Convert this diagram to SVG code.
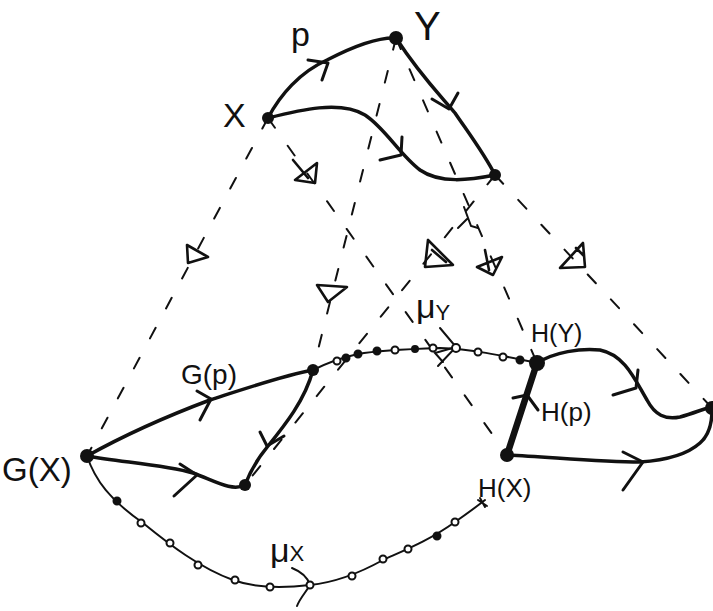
<svg xmlns="http://www.w3.org/2000/svg" width="713" height="611" viewBox="0 0 713 611">
<style>
.bg{fill:#fff}
.dash{fill:none;stroke:#111;stroke-width:2;stroke-dasharray:12 22;stroke-linecap:round}
.arc{fill:none;stroke:#111;stroke-width:3.5;stroke-linecap:round;stroke-linejoin:round}
.thick{fill:none;stroke:#111;stroke-width:6.5;stroke-linecap:round}
.thin{fill:none;stroke:#111;stroke-width:2;stroke-linecap:round}
.chev{fill:none;stroke:#111;stroke-width:3;stroke-linecap:round;stroke-linejoin:round}
.tri{fill:none;stroke:#111;stroke-width:2.6;stroke-linejoin:round;stroke-linecap:round}
.dot{fill:#111}
.bead{fill:#fff;stroke:#111;stroke-width:2}
.beadf{fill:#111;stroke:#111;stroke-width:2}
.lbl{font-family:"Liberation Sans","DejaVu Sans",sans-serif;fill:#111}
</style>
<rect class="bg" x="0" y="0" width="713" height="611"/>

<g id="connectors">
  <!-- dashed projection lines -->
  <line class="dash" x1="268" y1="118" x2="87" y2="456"/>
  <line class="dash" x1="268" y1="118" x2="507" y2="455"/>
  <line class="dash" x1="396" y1="38" x2="313" y2="370"/>
  <line class="dash" x1="396" y1="38" x2="537" y2="363"/>
  <line class="dash" x1="495" y1="175" x2="245" y2="485"/>
  <line class="dash" x1="495" y1="175" x2="712" y2="408"/>
  <path class="thin" d="M458,228 L467,219 M464,207 L471,226 L478,228"/>

  <!-- triangle marks -->
  <path class="tri" d="M295,180 L315,183 L317,163 Z M293,160 L308,178"/>
  <path class="tri" d="M187,245 L208,257 L188,263 Z"/>
  <path class="tri" d="M317,285 L347,287 L328,302 Z"/>
  <path class="tri" d="M428,240 L425,267 L453,265 Z M432,250 L446,262"/>
  <path class="tri" d="M477,267 L502,257 L493,275 Z M485,250 L489,270"/>
  <path class="tri" d="M560,268 L583,243 L585,267 Z M576,248 L584,256"/>

  <!-- top: X -> Y, Y -> Z, X -> Z -->
  <path class="arc" d="M268,118 C280,95 300,72 327,60 C350,48 375,37 396,38"/>
  <path class="chev" d="M308,60 L328,63 L322,80"/>
  <path class="arc" d="M396,38 C420,75 440,95 455,113 C470,135 485,155 495,175"/>
  <path class="chev" d="M432,99 L449,109 L458,93"/>
  <path class="arc" d="M268,118 C300,110 340,100 365,115 C385,128 400,155 420,170 C440,184 470,180 495,175"/>
  <path class="chev" d="M380,160 L401,155 L402,137"/>

  <!-- G side -->
  <path class="arc" d="M87,456 C130,432 170,415 210,400 C250,387 285,375 313,370"/>
  <path class="chev" d="M197,391 L211,399 L200,420"/>
  <path class="arc" d="M313,370 C305,400 285,425 268,446 C258,458 250,472 245,485"/>
  <path class="chev" d="M260,432 L267,446 L284,436"/>
  <path class="arc" d="M87,456 C120,462 165,465 193,473 C215,481 232,492 245,485"/>
  <path class="chev" d="M180,464 L197,475 L174,496"/>

  <!-- mu_X -->
  <path class="thin" d="M87,456 C95,480 110,500 143,523 C170,545 200,568 233,580 C255,588 285,588 310,585 C340,582 365,570 383,560 C405,550 430,540 455,522 C468,513 476,507 485,500"/>
  <path class="thin" d="M292,568 C302,572 308,578 310,585 C306,592 300,598 297,606"/>
  <circle class="beadf" cx="117" cy="501" r="3.5"/>
  <circle class="bead" cx="141" cy="523" r="3.5"/>
  <circle class="bead" cx="170" cy="543" r="3.5"/>
  <circle class="bead" cx="198" cy="565" r="3.5"/>
  <circle class="bead" cx="235" cy="580" r="3.5"/>
  <circle class="bead" cx="270" cy="587" r="3.5"/>
  <circle class="bead" cx="310" cy="585" r="3.5"/>
  <circle class="bead" cx="352" cy="576" r="3.5"/>
  <circle class="bead" cx="383" cy="559" r="3.5"/>
  <circle class="bead" cx="408" cy="549" r="3.5"/>
  <circle class="beadf" cx="437" cy="536" r="3.5"/>
  <circle class="bead" cx="455" cy="522" r="3.5"/>
  <path class="thin" d="M478,500 L487,506 M480,498 L485,507"/>

  <!-- mu_Y -->
  <path class="thin" d="M313,370 C325,364 340,358 358,354 C380,350 410,349 440,348 C470,349 500,355 537,363"/>
  <path class="thin" d="M440,328 L456,347 L438,366 M456,347 L435,353 L443,362"/>
  <circle class="bead" cx="337" cy="361" r="3.5"/>
  <circle class="beadf" cx="346" cy="358" r="3.5"/>
  <circle class="beadf" cx="358" cy="354" r="3.5"/>
  <circle class="beadf" cx="377" cy="351" r="3.5"/>
  <circle class="bead" cx="395" cy="350" r="3.5"/>
  <circle class="beadf" cx="415" cy="349" r="3"/>
  <circle class="bead" cx="433" cy="348" r="3.5"/>
  <circle class="bead" cx="456" cy="348" r="4"/>
  <circle class="bead" cx="478" cy="352" r="3.5"/>
  <circle class="bead" cx="503" cy="357" r="3.5"/>
  <circle class="beadf" cx="520" cy="360" r="3.5"/>

  <!-- H side -->
  <line class="thick" x1="537" y1="363" x2="507" y2="455"/>
  <path class="chev" d="M513,398 L527,395 L538,410"/>
  <path class="arc" d="M537,363 C555,352 580,348 600,350 C625,355 635,380 647,400 C655,415 665,420 680,417 C695,413 705,408 712,407"/>
  <path class="chev" d="M613,395 L636,388 L638,370"/>
  <path class="arc" d="M507,455 C550,457 600,462 640,462 C670,460 690,452 700,443 C708,436 712,425 712,410"/>
  <path class="chev" d="M623,452 L643,462 L623,490"/>
</g>

<g id="X"><circle class="dot" cx="268" cy="118" r="6"/><text class="lbl" x="223" y="127" font-size="34">X</text></g>
<g id="Y"><circle class="dot" cx="396" cy="38" r="7"/><text class="lbl" x="414" y="40" font-size="40">Y</text></g>
<g id="Z"><circle class="dot" cx="495" cy="175" r="6"/></g>
<g id="p"><text class="lbl" x="291" y="46" font-size="34">p</text></g>

<g id="GX"><circle class="dot" cx="87" cy="456" r="7"/><text class="lbl" x="2" y="481" font-size="33">G(X)</text></g>
<g id="GY"><circle class="dot" cx="313" cy="370" r="6"/></g>
<g id="GZ"><circle class="dot" cx="245" cy="485" r="6"/></g>
<g id="Gp"><text class="lbl" x="181" y="384" font-size="28">G(p)</text></g>

<g id="HY"><circle class="dot" cx="537" cy="363" r="8"/><text class="lbl" x="531" y="342" font-size="25">H(Y)</text></g>
<g id="HX"><circle class="dot" cx="507" cy="455" r="7"/><text class="lbl" x="478" y="497" font-size="26">H(X)</text></g>
<g id="HZ"><circle class="dot" cx="712" cy="408" r="7"/></g>
<g id="Hp"><text class="lbl" x="541" y="421" font-size="26">H(p)</text></g>

<g id="muY"><text class="lbl" x="416" y="318" font-size="34">μ<tspan font-size="22" dy="2">Y</tspan></text></g>
<g id="muX"><text class="lbl" x="270" y="562" font-size="34">μ<tspan font-size="22" dy="-1">X</tspan></text></g>
</svg>
